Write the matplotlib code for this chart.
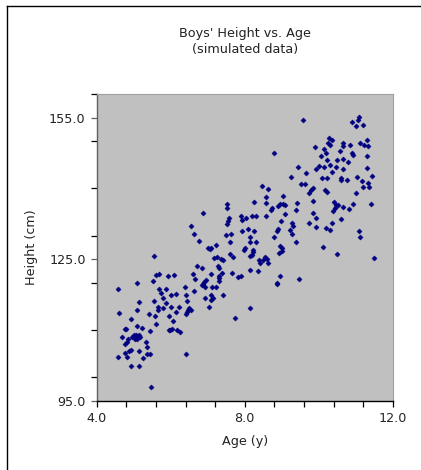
import matplotlib
matplotlib.use("Agg")
import matplotlib.pyplot as plt
from matplotlib.lines import Line2D
from matplotlib.ticker import MultipleLocator, FixedLocator

title = "Boys' Height vs. Age\n(simulated data)"
x_label = "Age (y)"
y_label = "Height (cm)"
x_ticks = [4.0, 8.0, 12.0]
y_ticks = [95.0, 125.0, 155.0]

age = [
    5.56, 5.60, 5.69, 5.94, 5.10, 5.53, 4.58, 5.69, 5.75, 5.87, 5.13, 5.55, 5.80, 5.88, 5.09, 5.65,
    5.67, 5.80, 4.61, 5.41, 5.58, 5.96, 4.92, 5.61, 5.10, 5.22, 4.76, 4.79, 5.96, 5.43, 4.68, 5.02,
    5.07, 5.13, 5.18, 4.96, 4.84, 4.81, 5.04, 5.09, 5.32, 4.77, 5.36, 4.87, 4.94, 5.13, 4.77, 5.36,
    5.43, 4.58, 4.83, 5.26, 4.92, 5.13, 5.47,
    7.53, 7.51, 6.86, 7.58, 7.56, 7.53, 7.90, 7.92, 6.56, 7.94, 6.63, 7.49, 7.64, 6.77, 7.61, 7.23,
    7.00, 7.06, 7.09, 7.98, 7.61, 7.68, 7.18, 7.24, 7.35, 7.40, 7.29, 7.31, 6.71, 6.84, 7.67, 6.61,
    7.08, 7.38, 6.09, 7.31, 7.30, 7.31, 7.83, 7.90, 6.66, 6.95, 6.91, 6.88, 6.84, 6.94, 7.12, 7.22,
    6.38, 6.64, 6.40, 6.14, 6.01, 7.09, 7.13, 7.08, 6.93, 7.40, 6.45, 7.04, 6.23, 6.02, 6.50, 6.48,
    6.45, 6.54, 6.15, 6.41, 7.75, 6.07, 6.03, 5.98, 6.16, 6.25, 6.40,
    8.57, 9.04, 8.25, 8.57, 8.95, 9.04, 9.09, 8.91, 9.40, 9.85, 8.75, 8.71, 9.38, 9.09, 9.84, 9.92,
    8.04, 8.21, 8.30, 8.57, 8.98, 9.27, 9.30, 9.74, 9.92, 8.10, 8.25, 8.89, 8.86, 9.22, 9.27, 8.14,
    8.80, 8.13, 8.31, 9.39, 8.95, 9.00, 9.02, 8.94, 8.22, 8.23, 8.19, 8.13, 8.01, 8.39, 8.41, 8.55,
    8.59, 8.64, 8.50, 8.14, 8.35, 8.95, 8.88, 8.86, 9.47, 8.14,
    10.40, 10.47, 10.53, 10.44, 10.38, 10.67, 10.83, 10.93, 11.42, 10.59, 10.36, 10.20, 10.31, 11.09,
    11.12, 10.12, 10.49, 11.50,
    9.58, 9.91, 8.80, 9.45, 9.66, 9.94, 10.01, 9.24, 9.52, 9.63, 9.84, 9.79, 9.75, 8.46, 8.64,
    11.09, 11.05, 10.89, 11.01, 11.21, 10.29, 10.35, 10.26, 10.31, 11.30, 11.12, 11.22, 11.34, 10.67,
    10.65, 10.58, 10.85, 10.14, 10.20, 10.91, 10.92, 11.31, 10.06, 10.50, 10.65, 10.78, 10.23, 10.31,
    10.47, 10.67, 11.31, 10.14, 10.35, 11.43, 10.22, 10.08, 11.03, 11.16, 11.20, 10.59, 10.59, 10.77,
    11.34, 11.37, 10.17, 10.22, 11.01,
]

height = [
    125.7, 121.6, 121.8, 121.4, 120.0, 120.4, 118.7, 118.6, 117.8, 118.6, 115.9, 116.1, 116.7, 115.8, 114.2, 114.8,
    114.2, 114.6, 113.6, 113.4, 112.9, 113.0, 112.4, 111.3, 110.8, 110.5, 110.2, 110.3, 110.0, 109.8, 108.6, 109.0,
    108.9, 109.0, 108.6, 108.4, 108.1, 107.5, 108.1, 108.1, 107.5, 107.0, 106.4, 105.5, 105.7, 105.5, 105.2, 105.0,
    105.0, 104.3, 104.2, 104.0, 102.3, 102.3, 98.0,
    136.6, 135.9, 134.7, 133.8, 133.1, 132.4, 134.2, 133.3, 132.1, 131.0, 130.3, 130.1, 130.4, 128.9, 128.6, 127.9,
    127.3, 127.2, 127.4, 127.0, 126.0, 125.5, 125.3, 125.5, 125.0, 124.8, 123.6, 123.2, 123.6, 123.2, 122.1, 121.9,
    121.8, 122.0, 121.6, 121.4, 120.9, 120.4, 121.2, 121.4, 120.7, 120.6, 120.1, 119.8, 119.5, 119.2, 119.2, 119.2,
    119.0, 118.3, 117.5, 117.6, 117.3, 117.4, 116.8, 116.3, 116.7, 117.4, 116.1, 114.8, 114.8, 114.9, 114.6, 114.2,
    113.7, 114.2, 113.7, 113.4, 112.6, 111.9, 110.3, 110.0, 110.0, 109.5, 104.9,
    138.1, 138.4, 137.2, 136.9, 136.6, 136.7, 136.5, 136.3, 137.0, 137.4, 135.8, 135.4, 135.4, 134.6, 134.7, 133.8,
    133.7, 134.1, 134.2, 134.2, 133.0, 132.6, 132.0, 132.6, 131.9, 131.3, 131.0, 131.3, 130.9, 131.2, 130.3, 129.6,
    129.6, 128.6, 128.6, 128.6, 127.7, 127.3, 126.7, 126.2, 127.0, 126.5, 125.9, 125.7, 127.3, 124.8, 124.1, 125.4,
    125.0, 124.1, 124.8, 122.7, 122.5, 121.4, 119.9, 119.7, 120.7, 114.6,
    137.1, 136.5, 136.5, 135.9, 135.1, 136.1, 135.7, 136.6, 136.6, 133.5, 132.6, 131.6, 131.1, 130.9,
    129.6, 127.5, 126.1, 125.3,
    154.4, 148.8, 147.5, 144.5, 143.2, 144.1, 144.8, 142.5, 141.0, 141.0, 140.0, 139.6, 139.1, 140.4, 139.8,
    155.1, 154.4, 154.0, 153.2, 153.4, 150.7, 150.2, 149.6, 149.1, 150.3, 149.7, 149.2, 149.0, 149.7,
    148.9, 148.0, 149.1, 148.3, 147.6, 147.6, 147.1, 146.8, 146.9, 146.1, 146.2, 145.6, 146.0, 145.0,
    144.5, 144.1, 144.3, 144.6, 143.4, 142.7, 142.3, 142.2, 142.5, 141.5, 140.3, 142.2, 141.7, 141.7,
    141.1, 140.3, 139.7, 139.3, 139.1,
]

W, H = 421, 470
fig = plt.figure(figsize=(W / 100, H / 100), dpi=100, facecolor="white")
ax = fig.add_axes([96.7 / W, 1 - 400.7 / H, (392.7 - 96.7) / W, (400.7 - 94) / H])
ax.set_facecolor("#c0c0c0")

ax.scatter(age, height, marker="D", s=7, color="#000080", edgecolors="#000080", linewidths=0.3, zorder=3)

ax.set_xlim(4.0, 12.0)
ax.set_ylim(95.0, 160.0)
ax.xaxis.set_major_locator(FixedLocator(x_ticks))
ax.xaxis.set_minor_locator(MultipleLocator(0.8))
ax.yaxis.set_major_locator(FixedLocator(y_ticks))
ax.yaxis.set_minor_locator(MultipleLocator(10))
ax.set_xticklabels([f"{v:.1f}" for v in x_ticks])
ax.set_yticklabels([f"{v:.1f}" for v in y_ticks])

for sp in ["top", "right"]:
    ax.spines[sp].set_color("#a0a0a0")
    ax.spines[sp].set_linewidth(0.8)
ax.spines["left"].set_color("#606060")
ax.spines["bottom"].set_color("#000000")
for sp in ["left", "bottom"]:
    ax.spines[sp].set_linewidth(1.0)

ax.tick_params(axis="both", which="both", direction="out", colors="#000000", labelcolor="#222222")
ax.tick_params(axis="both", which="major", length=4, width=0.9, labelsize=9.2, pad=4)
ax.tick_params(axis="both", which="minor", length=4, width=0.9)
ax.tick_params(axis="y", colors="#606060", labelcolor="#222222")

ax.set_xlabel(x_label, fontsize=9.2, color="#222222", labelpad=7)
ax.set_ylabel(y_label, fontsize=9.2, color="#222222", labelpad=8)

fig.text(244.7 / W, 1 - 42 / H, title, ha="center", va="center", fontsize=9.2,
         color="#222222", linespacing=1.3)

fig.add_artist(Line2D([7 / W, 7 / W], [0, 1 - 6 / H], color="black", linewidth=1.0))
fig.add_artist(Line2D([7 / W, 1], [1 - 6 / H, 1 - 6 / H], color="black", linewidth=1.0))

fig.savefig("out.png", dpi=100, facecolor="white")
